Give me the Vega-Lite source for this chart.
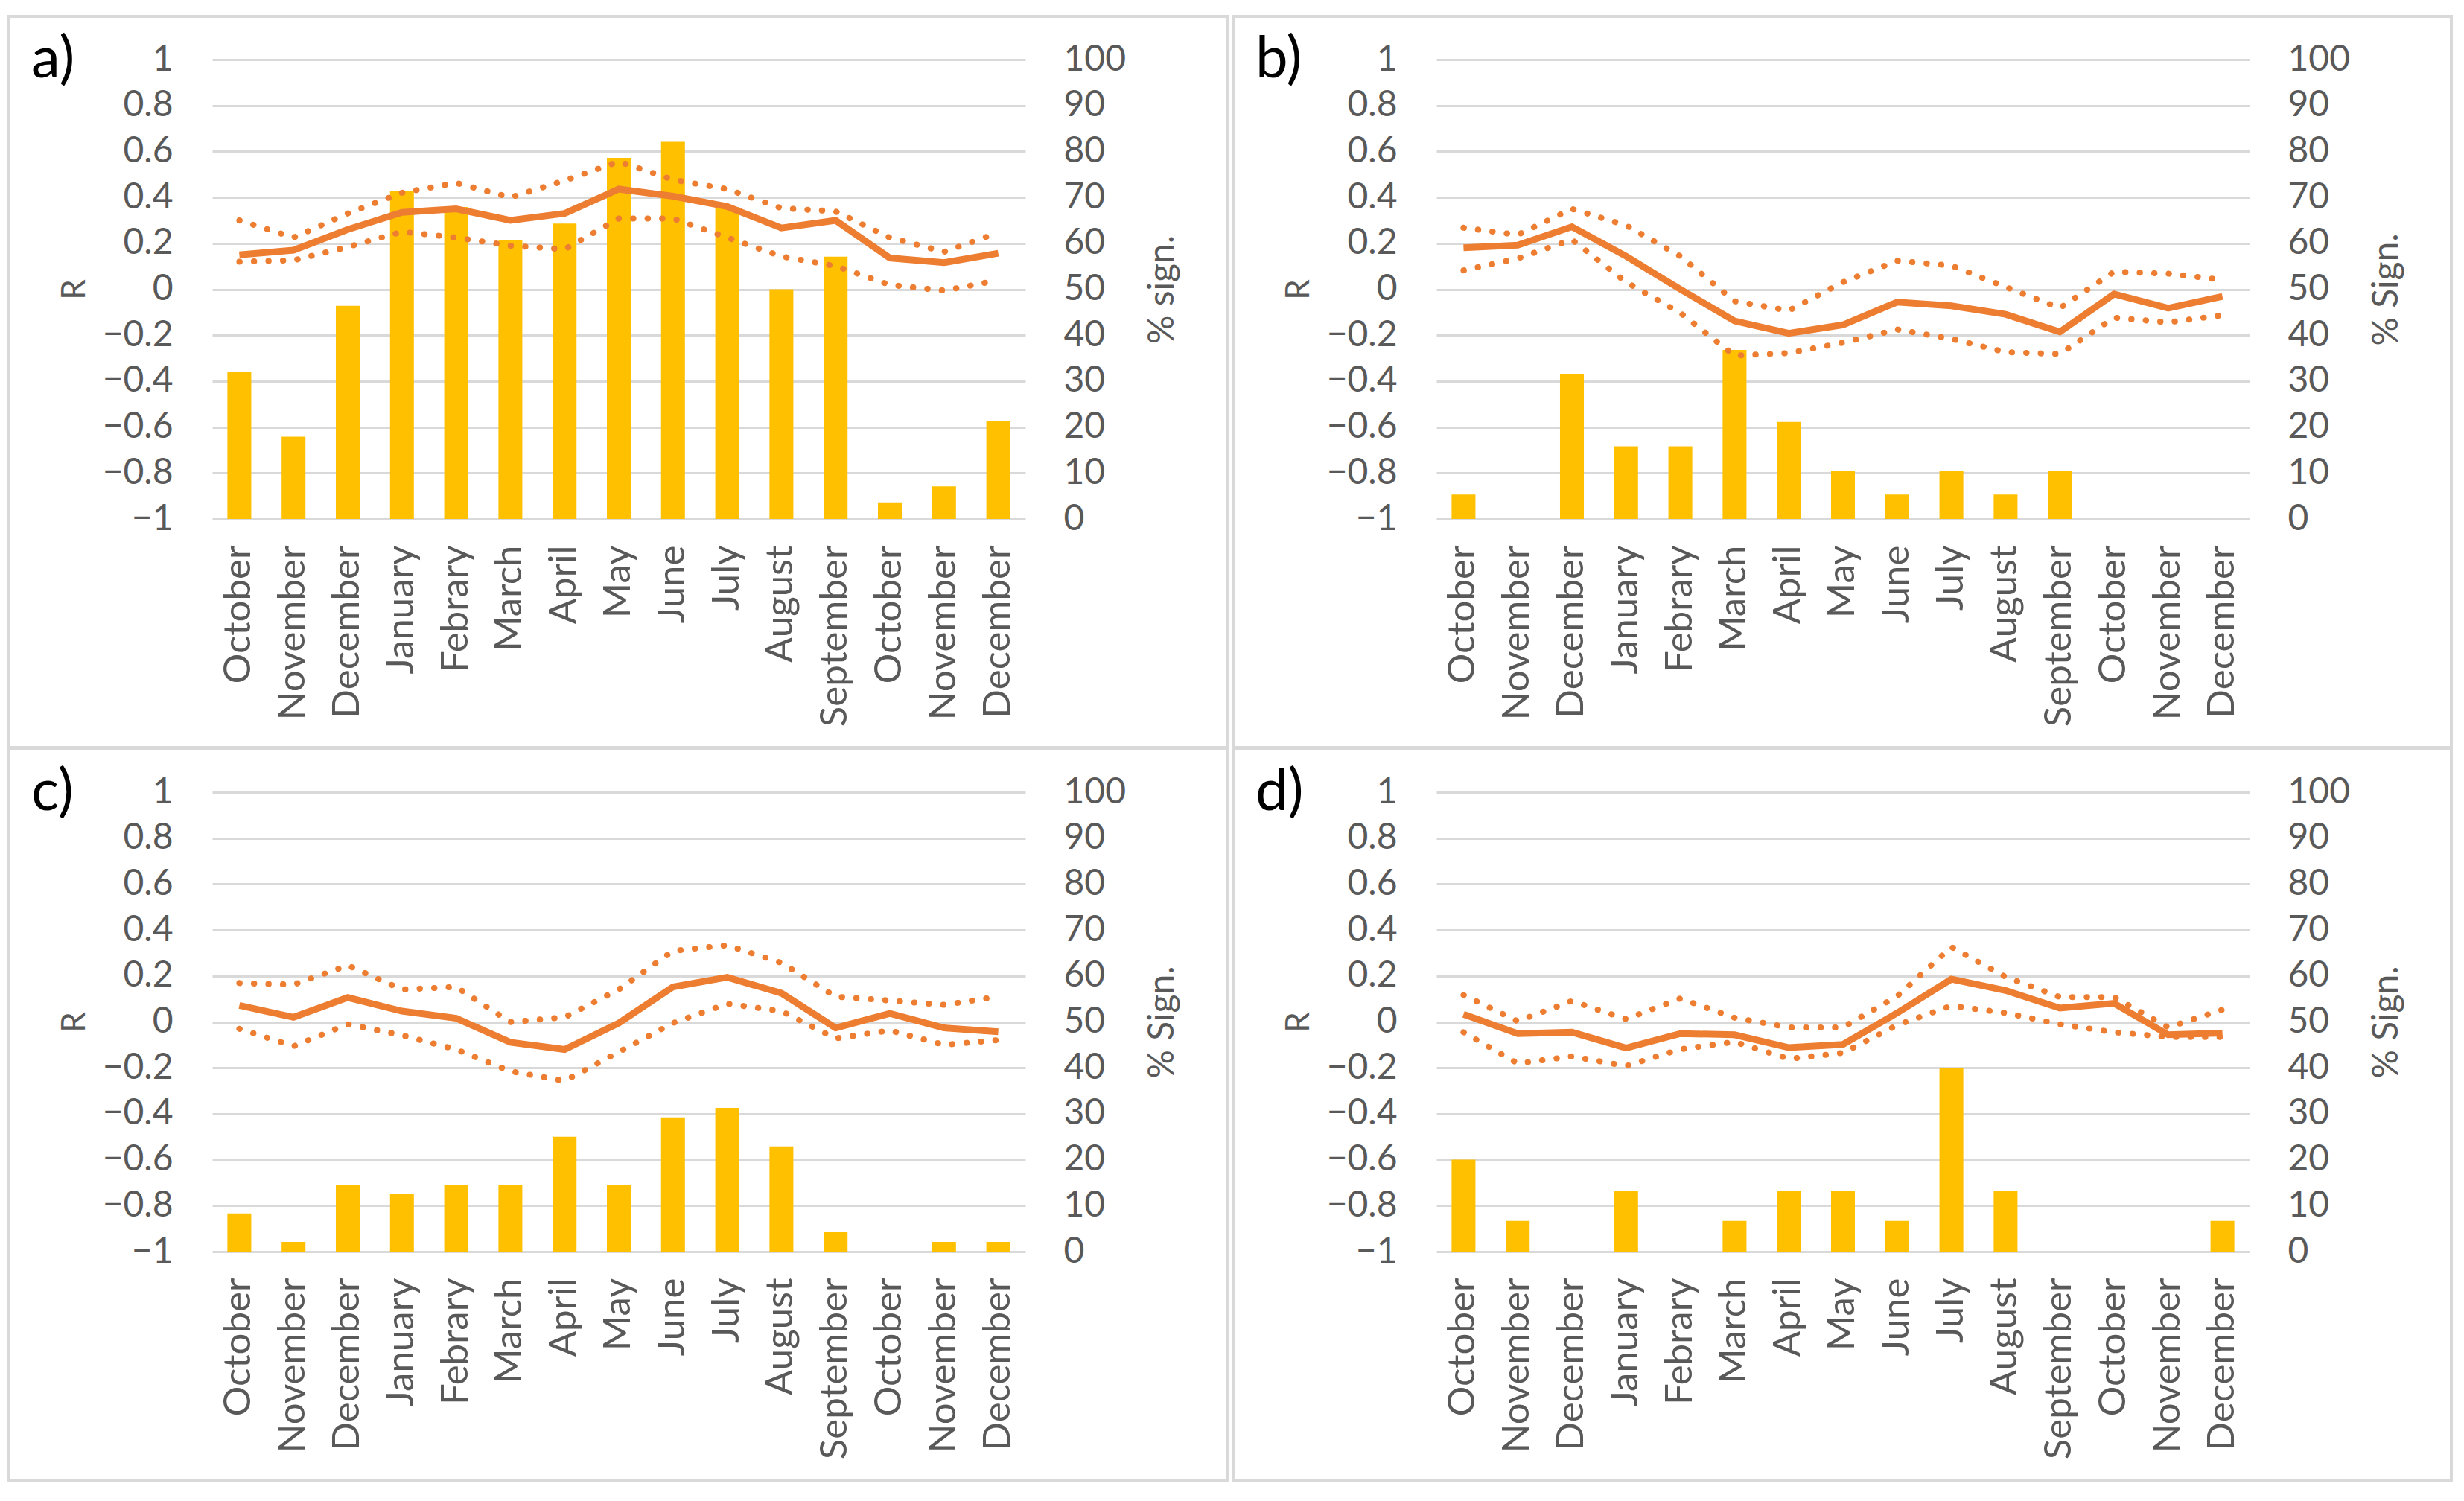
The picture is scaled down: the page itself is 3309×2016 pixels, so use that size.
{
"$schema": "https://vega.github.io/schema/vega-lite/v6.json",
"background": "white",
"padding": {"left": 10, "top": 20, "right": 0, "bottom": 0},
"data": {"values": [
{"p":"a","i":1,"R":0.15,"hi":0.30,"lo":0.12,"s":32.1},
{"p":"a","i":2,"R":0.17,"hi":0.225,"lo":0.126,"s":17.9},
{"p":"a","i":3,"R":0.26,"hi":0.33,"lo":0.184,"s":46.4},
{"p":"a","i":4,"R":0.335,"hi":0.42,"lo":0.25,"s":71.4},
{"p":"a","i":5,"R":0.35,"hi":0.463,"lo":0.225,"s":67.9},
{"p":"a","i":6,"R":0.30,"hi":0.40,"lo":0.19,"s":60.7},
{"p":"a","i":7,"R":0.33,"hi":0.473,"lo":0.174,"s":64.3},
{"p":"a","i":8,"R":0.436,"hi":0.556,"lo":0.308,"s":78.6},
{"p":"a","i":9,"R":0.405,"hi":0.477,"lo":0.308,"s":82.1},
{"p":"a","i":10,"R":0.36,"hi":0.436,"lo":0.225,"s":67.9},
{"p":"a","i":11,"R":0.267,"hi":0.353,"lo":0.143,"s":50},
{"p":"a","i":12,"R":0.30,"hi":0.339,"lo":0.101,"s":57.1},
{"p":"a","i":13,"R":0.136,"hi":0.225,"lo":0.019,"s":3.6},
{"p":"a","i":14,"R":0.116,"hi":0.163,"lo":-0.006,"s":7.1},
{"p":"a","i":15,"R":0.157,"hi":0.246,"lo":0.039,"s":21.4},
{"p":"b","i":1,"R":0.181,"hi":0.268,"lo":0.082,"s":5.3},
{"p":"b","i":2,"R":0.192,"hi":0.237,"lo":0.134,"s":0},
{"p":"b","i":3,"R":0.272,"hi":0.35,"lo":0.216,"s":31.6},
{"p":"b","i":4,"R":0.144,"hi":0.278,"lo":0.031,"s":15.8},
{"p":"b","i":5,"R":0.0,"hi":0.144,"lo":-0.103,"s":15.8},
{"p":"b","i":6,"R":-0.138,"hi":-0.052,"lo":-0.289,"s":36.8},
{"p":"b","i":7,"R":-0.192,"hi":-0.093,"lo":-0.278,"s":21.1},
{"p":"b","i":8,"R":-0.155,"hi":0.031,"lo":-0.233,"s":10.5},
{"p":"b","i":9,"R":-0.056,"hi":0.124,"lo":-0.175,"s":5.3},
{"p":"b","i":10,"R":-0.072,"hi":0.103,"lo":-0.216,"s":10.5},
{"p":"b","i":11,"R":-0.109,"hi":0.01,"lo":-0.274,"s":5.3},
{"p":"b","i":12,"R":-0.186,"hi":-0.082,"lo":-0.282,"s":10.5},
{"p":"b","i":13,"R":-0.021,"hi":0.076,"lo":-0.124,"s":0},
{"p":"b","i":14,"R":-0.082,"hi":0.068,"lo":-0.144,"s":0},
{"p":"b","i":15,"R":-0.031,"hi":0.041,"lo":-0.113,"s":0},
{"p":"c","i":1,"R":0.072,"hi":0.169,"lo":-0.03,"s":8.3},
{"p":"c","i":2,"R":0.02,"hi":0.162,"lo":-0.106,"s":2.1},
{"p":"c","i":3,"R":0.106,"hi":0.246,"lo":-0.01,"s":14.6},
{"p":"c","i":4,"R":0.047,"hi":0.141,"lo":-0.058,"s":12.5},
{"p":"c","i":5,"R":0.016,"hi":0.152,"lo":-0.12,"s":14.6},
{"p":"c","i":6,"R":-0.089,"hi":-0.001,"lo":-0.215,"s":14.6},
{"p":"c","i":7,"R":-0.12,"hi":0.02,"lo":-0.257,"s":25},
{"p":"c","i":8,"R":-0.005,"hi":0.141,"lo":-0.131,"s":14.6},
{"p":"c","i":9,"R":0.152,"hi":0.309,"lo":-0.005,"s":29.2},
{"p":"c","i":10,"R":0.194,"hi":0.334,"lo":0.079,"s":31.3},
{"p":"c","i":11,"R":0.125,"hi":0.257,"lo":0.047,"s":22.9},
{"p":"c","i":12,"R":-0.026,"hi":0.11,"lo":-0.072,"s":4.2},
{"p":"c","i":13,"R":0.037,"hi":0.093,"lo":-0.037,"s":0},
{"p":"c","i":14,"R":-0.026,"hi":0.074,"lo":-0.1,"s":2.1},
{"p":"c","i":15,"R":-0.043,"hi":0.11,"lo":-0.079,"s":2.1},
{"p":"d","i":1,"R":0.033,"hi":0.117,"lo":-0.045,"s":20},
{"p":"d","i":2,"R":-0.051,"hi":0.003,"lo":-0.181,"s":6.7},
{"p":"d","i":3,"R":-0.045,"hi":0.091,"lo":-0.15,"s":0},
{"p":"d","i":4,"R":-0.114,"hi":0.012,"lo":-0.192,"s":13.3},
{"p":"d","i":5,"R":-0.051,"hi":0.102,"lo":-0.119,"s":0},
{"p":"d","i":6,"R":-0.056,"hi":0.018,"lo":-0.087,"s":6.7},
{"p":"d","i":7,"R":-0.112,"hi":-0.024,"lo":-0.161,"s":13.3},
{"p":"d","i":8,"R":-0.098,"hi":-0.024,"lo":-0.135,"s":13.3},
{"p":"d","i":9,"R":0.039,"hi":0.112,"lo":-0.014,"s":6.7},
{"p":"d","i":10,"R":0.186,"hi":0.326,"lo":0.07,"s":40},
{"p":"d","i":11,"R":0.137,"hi":0.196,"lo":0.039,"s":13.3},
{"p":"d","i":12,"R":0.06,"hi":0.108,"lo":-0.01,"s":0},
{"p":"d","i":13,"R":0.081,"hi":0.108,"lo":-0.045,"s":0},
{"p":"d","i":14,"R":-0.056,"hi":-0.024,"lo":-0.066,"s":0},
{"p":"d","i":15,"R":-0.049,"hi":0.053,"lo":-0.066,"s":6.7}
]},
"columns": 2,
"spacing": {"row": -2, "column": 4},
"concat": [
{
 "width": 1636, "height": 982,
 "title": {"text": "a)", "anchor": "start", "frame": "group", "baseline": "top", "offset": -98, "dx": 30, "fontSize": 78, "fontWeight": "normal", "color": "#000000", "font": "Lato"},
 "transform": [{"filter": "datum.p == 'a'"}],
 "encoding": {"x": {"field": "i", "type": "ordinal", "scale": {"range": [273, 1365], "paddingInner": 0.56, "paddingOuter": 0.28},
   "axis": {"orient": "bottom", "offset": -307, "labelAngle": 270, "labelAlign": "right", "labelBaseline": "middle", "labelPadding": 35, "labelFontSize": 51, "labelLimit": 0, "title": null, "grid": false,
     "labelExpr": "['October','November','December','January','Febrary','March','April','May','June','July','August','September','October','November','December'][datum.value-1]"}}},
 "layer": [
  {"mark": {"type": "bar", "color": "#FFC000"},
   "encoding": {"y": {"field": "s", "type": "quantitative", "scale": {"domain": [0, 100], "range": [675, 58], "nice": false},
     "axis": {"orient": "right", "offset": -271, "values": [0,10,20,30,40,50,60,70,80,90,100], "format": "d", "grid": false, "labelPadding": 51, "labelFontSize": 48, "title": "% sign.", "titleFontSize": 48, "titleAngle": 270, "titleBaseline": "top", "titlePadding": 26}}}},
  {"layer": [
   {"mark": {"type": "line", "color": "#ED7D31", "strokeWidth": 9},
    "encoding": {"y": {"field": "R", "type": "quantitative", "scale": {"domain": [-1, 1], "range": [675, 58], "nice": false},
      "axis": {"orient": "left", "offset": -273, "values": [-1,-0.8,-0.6,-0.4,-0.2,0,0.2,0.4,0.6,0.8,1], "format": "~g", "grid": true, "gridColor": "#d9d9d9", "gridWidth": 3, "labelPadding": 53, "labelFontSize": 48, "title": "R", "titleFontSize": 44, "titlePadding": 15}}}},
   {"mark": {"type": "line", "color": "#ED7D31", "strokeWidth": 8, "strokeDash": [0.5, 19], "strokeCap": "round"},
    "encoding": {"y": {"field": "hi", "type": "quantitative", "scale": {"domain": [-1, 1], "range": [675, 58], "nice": false}, "title": "R"}}},
   {"mark": {"type": "line", "color": "#ED7D31", "strokeWidth": 8, "strokeDash": [0.5, 19], "strokeCap": "round"},
    "encoding": {"y": {"field": "lo", "type": "quantitative", "scale": {"domain": [-1, 1], "range": [675, 58], "nice": false}, "title": "R"}}}
  ]}
 ],
 "resolve": {"scale": {"y": "independent"}, "axis": {"y": "independent"}}
},
{
 "width": 1636, "height": 982,
 "title": {"text": "b)", "anchor": "start", "frame": "group", "baseline": "top", "offset": -98, "dx": 30, "fontSize": 78, "fontWeight": "normal", "color": "#000000", "font": "Lato"},
 "transform": [{"filter": "datum.p == 'b'"}],
 "encoding": {"x": {"field": "i", "type": "ordinal", "scale": {"range": [273, 1365], "paddingInner": 0.56, "paddingOuter": 0.28},
   "axis": {"orient": "bottom", "offset": -307, "labelAngle": 270, "labelAlign": "right", "labelBaseline": "middle", "labelPadding": 35, "labelFontSize": 51, "labelLimit": 0, "title": null, "grid": false,
     "labelExpr": "['October','November','December','January','Febrary','March','April','May','June','July','August','September','October','November','December'][datum.value-1]"}}},
 "layer": [
  {"mark": {"type": "bar", "color": "#FFC000"},
   "encoding": {"y": {"field": "s", "type": "quantitative", "scale": {"domain": [0, 100], "range": [675, 58], "nice": false},
     "axis": {"orient": "right", "offset": -271, "values": [0,10,20,30,40,50,60,70,80,90,100], "format": "d", "grid": false, "labelPadding": 51, "labelFontSize": 48, "title": "% Sign.", "titleFontSize": 48, "titleAngle": 270, "titleBaseline": "top", "titlePadding": 26}}}},
  {"layer": [
   {"mark": {"type": "line", "color": "#ED7D31", "strokeWidth": 9},
    "encoding": {"y": {"field": "R", "type": "quantitative", "scale": {"domain": [-1, 1], "range": [675, 58], "nice": false},
      "axis": {"orient": "left", "offset": -273, "values": [-1,-0.8,-0.6,-0.4,-0.2,0,0.2,0.4,0.6,0.8,1], "format": "~g", "grid": true, "gridColor": "#d9d9d9", "gridWidth": 3, "labelPadding": 53, "labelFontSize": 48, "title": "R", "titleFontSize": 44, "titlePadding": 15}}}},
   {"mark": {"type": "line", "color": "#ED7D31", "strokeWidth": 8, "strokeDash": [0.5, 19], "strokeCap": "round"},
    "encoding": {"y": {"field": "hi", "type": "quantitative", "scale": {"domain": [-1, 1], "range": [675, 58], "nice": false}, "title": "R"}}},
   {"mark": {"type": "line", "color": "#ED7D31", "strokeWidth": 8, "strokeDash": [0.5, 19], "strokeCap": "round"},
    "encoding": {"y": {"field": "lo", "type": "quantitative", "scale": {"domain": [-1, 1], "range": [675, 58], "nice": false}, "title": "R"}}}
  ]}
 ],
 "resolve": {"scale": {"y": "independent"}, "axis": {"y": "independent"}}
},
{
 "width": 1636, "height": 982,
 "title": {"text": "c)", "anchor": "start", "frame": "group", "baseline": "top", "offset": -98, "dx": 30, "fontSize": 78, "fontWeight": "normal", "color": "#000000", "font": "Lato"},
 "transform": [{"filter": "datum.p == 'c'"}],
 "encoding": {"x": {"field": "i", "type": "ordinal", "scale": {"range": [273, 1365], "paddingInner": 0.56, "paddingOuter": 0.28},
   "axis": {"orient": "bottom", "offset": -307, "labelAngle": 270, "labelAlign": "right", "labelBaseline": "middle", "labelPadding": 35, "labelFontSize": 51, "labelLimit": 0, "title": null, "grid": false,
     "labelExpr": "['October','November','December','January','Febrary','March','April','May','June','July','August','September','October','November','December'][datum.value-1]"}}},
 "layer": [
  {"mark": {"type": "bar", "color": "#FFC000"},
   "encoding": {"y": {"field": "s", "type": "quantitative", "scale": {"domain": [0, 100], "range": [675, 58], "nice": false},
     "axis": {"orient": "right", "offset": -271, "values": [0,10,20,30,40,50,60,70,80,90,100], "format": "d", "grid": false, "labelPadding": 51, "labelFontSize": 48, "title": "% Sign.", "titleFontSize": 48, "titleAngle": 270, "titleBaseline": "top", "titlePadding": 26}}}},
  {"layer": [
   {"mark": {"type": "line", "color": "#ED7D31", "strokeWidth": 9},
    "encoding": {"y": {"field": "R", "type": "quantitative", "scale": {"domain": [-1, 1], "range": [675, 58], "nice": false},
      "axis": {"orient": "left", "offset": -273, "values": [-1,-0.8,-0.6,-0.4,-0.2,0,0.2,0.4,0.6,0.8,1], "format": "~g", "grid": true, "gridColor": "#d9d9d9", "gridWidth": 3, "labelPadding": 53, "labelFontSize": 48, "title": "R", "titleFontSize": 44, "titlePadding": 15}}}},
   {"mark": {"type": "line", "color": "#ED7D31", "strokeWidth": 8, "strokeDash": [0.5, 19], "strokeCap": "round"},
    "encoding": {"y": {"field": "hi", "type": "quantitative", "scale": {"domain": [-1, 1], "range": [675, 58], "nice": false}, "title": "R"}}},
   {"mark": {"type": "line", "color": "#ED7D31", "strokeWidth": 8, "strokeDash": [0.5, 19], "strokeCap": "round"},
    "encoding": {"y": {"field": "lo", "type": "quantitative", "scale": {"domain": [-1, 1], "range": [675, 58], "nice": false}, "title": "R"}}}
  ]}
 ],
 "resolve": {"scale": {"y": "independent"}, "axis": {"y": "independent"}}
},
{
 "width": 1636, "height": 982,
 "title": {"text": "d)", "anchor": "start", "frame": "group", "baseline": "top", "offset": -98, "dx": 30, "fontSize": 78, "fontWeight": "normal", "color": "#000000", "font": "Lato"},
 "transform": [{"filter": "datum.p == 'd'"}],
 "encoding": {"x": {"field": "i", "type": "ordinal", "scale": {"range": [273, 1365], "paddingInner": 0.56, "paddingOuter": 0.28},
   "axis": {"orient": "bottom", "offset": -307, "labelAngle": 270, "labelAlign": "right", "labelBaseline": "middle", "labelPadding": 35, "labelFontSize": 51, "labelLimit": 0, "title": null, "grid": false,
     "labelExpr": "['October','November','December','January','Febrary','March','April','May','June','July','August','September','October','November','December'][datum.value-1]"}}},
 "layer": [
  {"mark": {"type": "bar", "color": "#FFC000"},
   "encoding": {"y": {"field": "s", "type": "quantitative", "scale": {"domain": [0, 100], "range": [675, 58], "nice": false},
     "axis": {"orient": "right", "offset": -271, "values": [0,10,20,30,40,50,60,70,80,90,100], "format": "d", "grid": false, "labelPadding": 51, "labelFontSize": 48, "title": "% Sign.", "titleFontSize": 48, "titleAngle": 270, "titleBaseline": "top", "titlePadding": 26}}}},
  {"layer": [
   {"mark": {"type": "line", "color": "#ED7D31", "strokeWidth": 9},
    "encoding": {"y": {"field": "R", "type": "quantitative", "scale": {"domain": [-1, 1], "range": [675, 58], "nice": false},
      "axis": {"orient": "left", "offset": -273, "values": [-1,-0.8,-0.6,-0.4,-0.2,0,0.2,0.4,0.6,0.8,1], "format": "~g", "grid": true, "gridColor": "#d9d9d9", "gridWidth": 3, "labelPadding": 53, "labelFontSize": 48, "title": "R", "titleFontSize": 44, "titlePadding": 15}}}},
   {"mark": {"type": "line", "color": "#ED7D31", "strokeWidth": 8, "strokeDash": [0.5, 19], "strokeCap": "round"},
    "encoding": {"y": {"field": "hi", "type": "quantitative", "scale": {"domain": [-1, 1], "range": [675, 58], "nice": false}, "title": "R"}}},
   {"mark": {"type": "line", "color": "#ED7D31", "strokeWidth": 8, "strokeDash": [0.5, 19], "strokeCap": "round"},
    "encoding": {"y": {"field": "lo", "type": "quantitative", "scale": {"domain": [-1, 1], "range": [675, 58], "nice": false}, "title": "R"}}}
  ]}
 ],
 "resolve": {"scale": {"y": "independent"}, "axis": {"y": "independent"}}
}
],
"config": {
 "view": {"stroke": "#d9d9d9", "strokeWidth": 4},
 "font": "Lato",
 "axis": {"labelFont": "Lato", "titleFont": "Lato", "labelColor": "#595959", "titleColor": "#595959", "titleFontWeight": "normal", "domain": false, "ticks": false, "labelOverlap": false}
}
}
